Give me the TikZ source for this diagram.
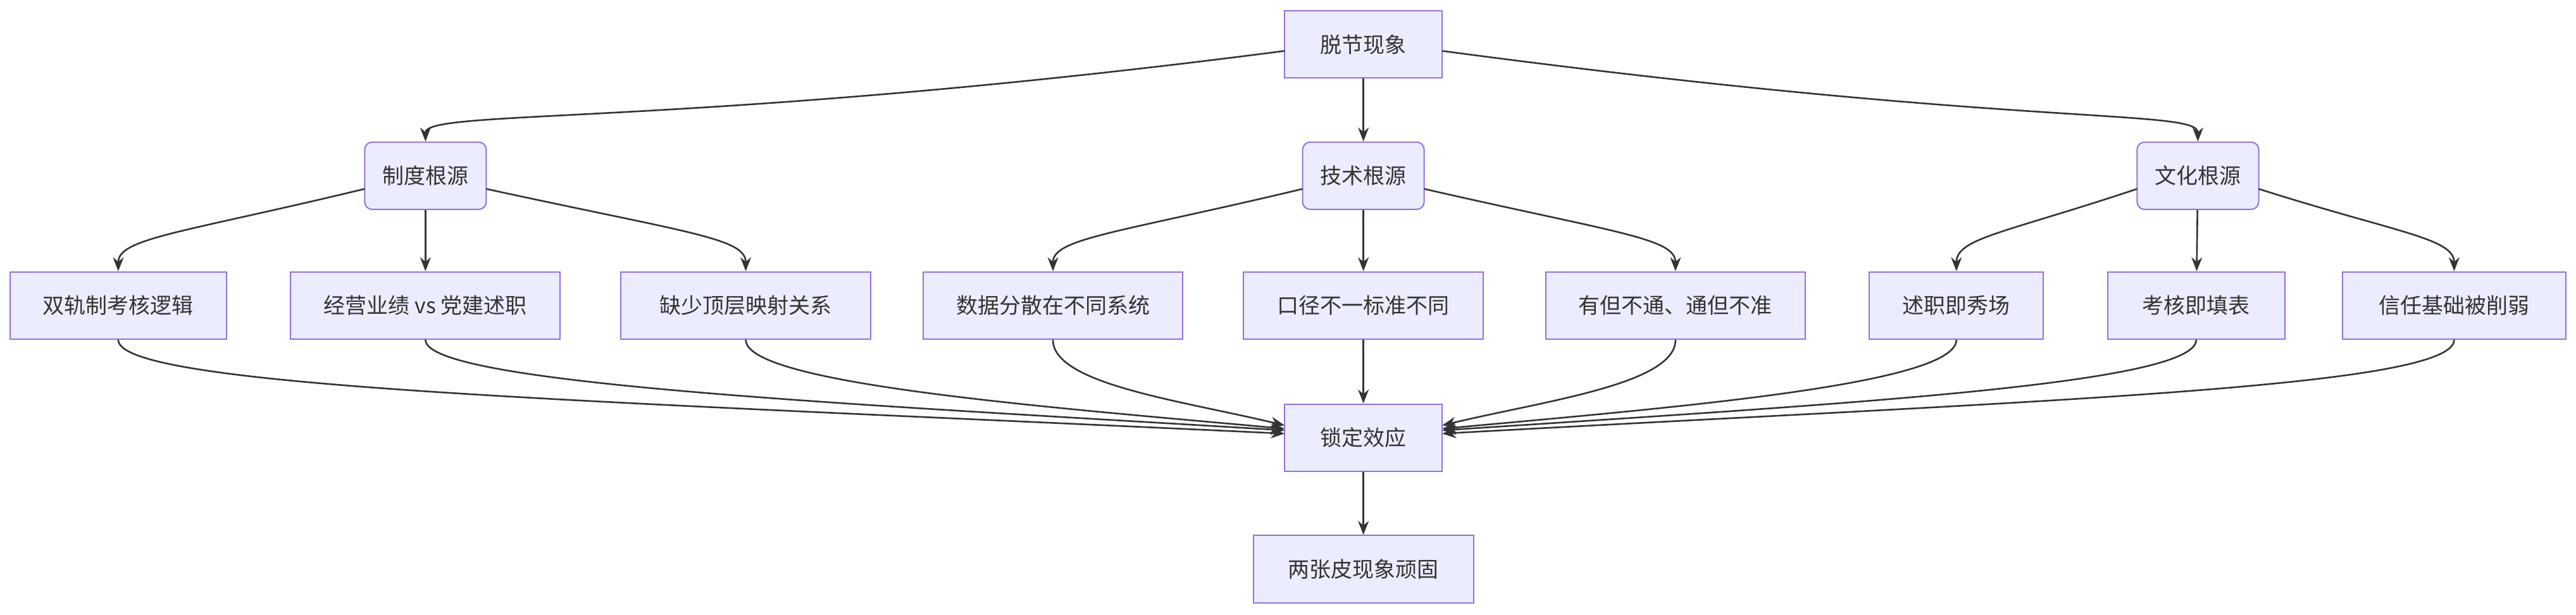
\documentclass[tikz,border=0pt]{standalone}
\usepackage{fontspec}
\setmainfont{Noto Sans CJK SC}
\usetikzlibrary{arrows.meta}
\definecolor{bfill}{HTML}{ECECFF}
\definecolor{bline}{HTML}{9370DB}
\definecolor{eline}{HTML}{333333}
\begin{document}
\begin{tikzpicture}[x=2.596pt,y=-2.596pt,
  box/.style={draw=bline,fill=bfill,line width=2pt,minimum height=41*2.596pt,inner sep=0pt,font=\fontsize{34pt}{40pt}\selectfont,text=eline},
  rbox/.style={box,rounded corners=12pt},
  e/.style={draw=eline,line width=2.6pt,-{Stealth[length=22pt,width=17pt]}}]
\useasboundingbox (0,0) rectangle (1568.2,374.4);
\node[box,minimum width=96*2.596pt] (t) at (830,27) {脱节现象};
\node[rbox,minimum width=74*2.596pt] (z) at (259,107) {制度根源};
\node[rbox,minimum width=74*2.596pt] (j) at (830,107) {技术根源};
\node[rbox,minimum width=74*2.596pt] (w) at (1338,107) {文化根源};
\node[box,minimum width=132*2.596pt] (a1) at (72,186) {双轨制考核逻辑};
\node[box,minimum width=164*2.596pt] (a2) at (259,186) {经营业绩 vs 党建述职};
\node[box,minimum width=152*2.596pt] (a3) at (454,186) {缺少顶层映射关系};
\node[box,minimum width=158*2.596pt] (b1) at (641,186) {数据分散在不同系统};
\node[box,minimum width=146*2.596pt] (b2) at (830,186) {口径不一标准不同};
\node[box,minimum width=158*2.596pt] (b3) at (1020,186) {有但不通、通但不准};
\node[box,minimum width=106*2.596pt] (c1) at (1191,186) {述职即秀场};
\node[box,minimum width=108*2.596pt] (c2) at (1337,186) {考核即填表};
\node[box,minimum width=136*2.596pt] (c3) at (1494,186) {信任基础被削弱};
\node[box,minimum width=96*2.596pt] (l) at (830,266.5) {锁定效应};
\node[box,minimum width=134*2.596pt] (r) at (830,346.5) {两张皮现象顽固};
\coordinate (tw) at (782,31);
\coordinate (te) at (878,31);
% top level
\path[e] (tw) .. controls (420,78) and (259,66) .. (z.north);
\path[e] (t) -- (j);
\path[e] (te) .. controls (1230,78) and (1338,66) .. (w.north);
% second level
\coordinate (zw) at (222,115); \coordinate (ze) at (296,115);
\coordinate (jw) at (793,115); \coordinate (je) at (867,115);
\coordinate (ww) at (1301,115); \coordinate (we) at (1375,115);
\path[e] (zw) .. controls (110,142) and (72,145) .. (a1.north);
\path[e] (z) -- (a2);
\path[e] (ze) .. controls (420,142) and (454,145) .. (a3.north);
\path[e] (jw) .. controls (680,142) and (641,145) .. (b1.north);
\path[e] (j) -- (b2);
\path[e] (je) .. controls (985,142) and (1020,145) .. (b3.north);
\path[e] (ww) .. controls (1220,142) and (1191,145) .. (c1.north);
\path[e] (w) -- (c2);
\path[e] (we) .. controls (1460,142) and (1494,145) .. (c3.north);
% converge
\coordinate (l1) at (782,264); \coordinate (l2) at (782,262);
\coordinate (l3) at (782,261); \coordinate (l4) at (782,259);
\coordinate (r1) at (878,259); \coordinate (r2) at (878,261);
\coordinate (r3) at (878,262); \coordinate (r4) at (878,264);
\path[e] (a1.south) .. controls (72,236) and (360,244) .. (l1);
\path[e] (a2.south) .. controls (259,234) and (520,246) .. (l2);
\path[e] (a3.south) .. controls (454,234) and (640,248) .. (l3);
\path[e] (b1.south) .. controls (641,234) and (720,244) .. (l4);
\path[e] (b2) -- (l);
\path[e] (b3.south) .. controls (1020,234) and (940,244) .. (r1);
\path[e] (c1.south) .. controls (1191,234) and (1020,248) .. (r2);
\path[e] (c2.south) .. controls (1337,234) and (1120,246) .. (r3);
\path[e] (c3.south) .. controls (1494,236) and (1240,244) .. (r4);
\path[e] (l) -- (r);
\end{tikzpicture}
\end{document}
